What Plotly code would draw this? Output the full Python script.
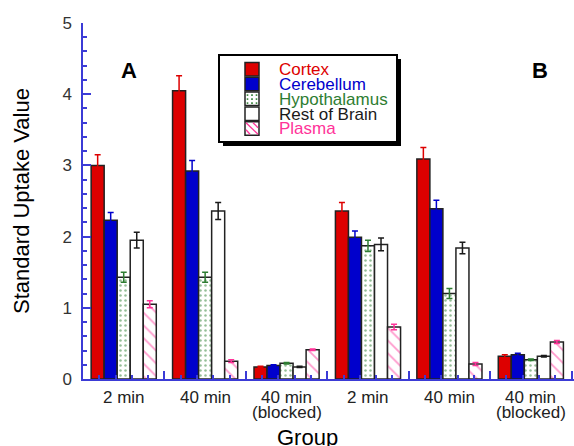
import plotly.graph_objects as go

groups = [1, 2, 3, 4, 5, 6]
group_labels = ["2 min", "40 min", "40 min", "2 min", "40 min", "40 min"]
group_sublabels = ["", "", "(blocked)", "", "", "(blocked)"]

series_names = ["Cortex", "Cerebellum", "Hypothalamus", "Rest of Brain", "Plasma"]
cortex = [3.00, 4.05, 0.17, 2.36, 3.09, 0.32]
cortex_err = [0.15, 0.21, 0.01, 0.12, 0.16, 0.02]
cerebellum = [2.23, 2.92, 0.19, 1.99, 2.39, 0.34]
cerebellum_err = [0.11, 0.15, 0.01, 0.09, 0.12, 0.02]
hypothalamus = [1.43, 1.43, 0.22, 1.87, 1.20, 0.27]
hypothalamus_err = [0.07, 0.07, 0.01, 0.08, 0.07, 0.01]
rest_of_brain = [1.95, 2.36, 0.17, 1.89, 1.84, 0.32]
rest_of_brain_err = [0.11, 0.12, 0.01, 0.09, 0.08, 0.01]
plasma = [1.05, 0.25, 0.41, 0.73, 0.21, 0.52]
plasma_err = [0.05, 0.02, 0.01, 0.04, 0.02, 0.02]

RED = "#dd0000"
BLUE = "#0000cc"
GREEN = "#2e7d32"
BLACK = "#1a1a1a"
PINK = "#ff3399"
AXIS = "#3b3bd6"
OUTLINE = "#222222"
FONT = "Liberation Sans"

colors = [RED, BLUE, GREEN, BLACK, PINK]
values = [cortex, cerebellum, hypothalamus, rest_of_brain, plasma]
errors = [cortex_err, cerebellum_err, hypothalamus_err, rest_of_brain_err, plasma_err]
markers = [
    dict(color=RED),
    dict(color=BLUE),
    dict(color="white", pattern=dict(shape=".", fgcolor=GREEN, bgcolor="white", size=5, solidity=0.2)),
    dict(color="white"),
    dict(color="white", pattern=dict(shape="\\", fgcolor=PINK, bgcolor="white", size=9, solidity=0.2)),
]

# plot area geometry in pixels
L, T, W, H = 83, 23, 491, 356
B = T + H


def px(x):
    return (x - L) / W


def py(y):
    return (B - y) / H


fig = go.Figure()
for name, vals, errs, col, marker in zip(series_names, values, errors, colors, markers):
    marker = dict(marker)
    marker["line"] = dict(color=OUTLINE, width=1.5)
    fig.add_trace(go.Bar(
        x=groups, y=vals, name=name, marker=marker,
        error_y=dict(type="data", array=errs, color=col, thickness=1.5, width=3),
    ))

fig.update_layout(
    width=574, height=446,
    margin=dict(l=L, r=574 - L - W, t=T, b=446 - B),
    paper_bgcolor="white", plot_bgcolor="white",
    barmode="group", bargap=0.2, bargroupgap=0,
    font=dict(family=FONT, size=17, color="#222222"),
    showlegend=False,
    xaxis=dict(range=[0.5, 6.53], showgrid=False, zeroline=False,
               showline=True, linecolor=AXIS, linewidth=1.5,
               tickmode="array", tickvals=[0.5, 1.5, 2.5, 3.5, 4.5, 5.5, 6.5],
               ticktext=[""] * 7, ticks="inside", ticklen=8, tickcolor=AXIS, tickwidth=1.5,
               minor=dict(ticks="inside", ticklen=4, tickcolor=AXIS, tickwidth=1.5,
                          tickmode="linear", tick0=0.5, dtick=0.2)),
    yaxis=dict(range=[0, 5], showgrid=False, zeroline=False,
               showline=True, linecolor=AXIS, linewidth=1.5,
               tickmode="linear", tick0=0, dtick=1,
               ticks="inside", ticklen=8, tickcolor=AXIS, tickwidth=1.5,
               tickfont=dict(family=FONT, size=17, color="#333333"),
               ticklabelstandoff=6,
               minor=dict(ticks="inside", ticklen=4, tickcolor=AXIS, tickwidth=1.5,
                          tickmode="linear", tick0=0, dtick=0.2),
               title=dict(text="Standard Uptake Value", font=dict(family=FONT, size=22, color="black"),
                          standoff=27)),
)

for g, lab, sub in zip(groups, group_labels, group_sublabels):
    fig.add_annotation(x=g, y=py(397), xref="x", yref="paper", text=lab, showarrow=False,
                       xanchor="center", yanchor="middle",
                       font=dict(family=FONT, size=17, color="#222222"))
    if sub:
        fig.add_annotation(x=g, y=py(413), xref="x", yref="paper", text=sub, showarrow=False,
                           xanchor="center", yanchor="middle",
                           font=dict(family=FONT, size=17, color="#222222"))

fig.add_annotation(x=px(307), y=py(437), xref="paper", yref="paper", text="Group", showarrow=False,
                   xanchor="center", yanchor="middle", font=dict(family=FONT, size=22, color="black"))

for lab, cx in (("A", 129), ("B", 540)):
    fig.add_annotation(x=px(cx), y=py(70), xref="paper", yref="paper", text=f"<b>{lab}</b>",
                       showarrow=False, xanchor="center", yanchor="middle",
                       font=dict(family=FONT, size=22, color="black"))

# ---- hand-drawn legend box (with drop shadow) ----
shapes = []
shapes.append(dict(type="rect", xref="paper", yref="paper",
                   x0=px(223), x1=px(401), y0=py(146), y1=py(59),
                   fillcolor="black", line=dict(width=0), layer="above"))
shapes.append(dict(type="rect", xref="paper", yref="paper",
                   x0=px(219), x1=px(397), y0=py(142), y1=py(55),
                   fillcolor="white", line=dict(color="black", width=2), layer="above"))

sw_x0, sw_x1 = 245, 259
sw_top, sw_step, sw_h = 62.5, 14.8, 13.5
fills = [RED, BLUE, "white", "white", "white"]
for i, (name, col, fill) in enumerate(zip(series_names, colors, fills)):
    y0 = sw_top + i * sw_step
    y1 = y0 + sw_h
    shapes.append(dict(type="rect", xref="paper", yref="paper",
                       x0=px(sw_x0), x1=px(sw_x1), y0=py(y1), y1=py(y0),
                       fillcolor=fill, line=dict(color=OUTLINE, width=1.5), layer="above"))
    if name == "Hypothalamus":
        for dx in (2.5, 7, 11.5):
            for dy in (3, 7, 11):
                shapes.append(dict(type="rect", xref="paper", yref="paper",
                                   x0=px(sw_x0 + dx - 0.8), x1=px(sw_x0 + dx + 0.8),
                                   y0=py(y0 + dy + 0.8), y1=py(y0 + dy - 0.8),
                                   fillcolor=GREEN, line=dict(width=0), layer="above"))
    if name == "Plasma":
        shapes.append(dict(type="line", xref="paper", yref="paper",
                           x0=px(sw_x0 + 1), y0=py(y0 + 1), x1=px(sw_x1 - 1), y1=py(y1 - 1),
                           line=dict(color=PINK, width=1.3), layer="above"))
        shapes.append(dict(type="line", xref="paper", yref="paper",
                           x0=px(sw_x0 + 8), y0=py(y0 + 1), x1=px(sw_x1 - 1), y1=py(y0 + 6),
                           line=dict(color=PINK, width=1.3), layer="above"))
        shapes.append(dict(type="line", xref="paper", yref="paper",
                           x0=px(sw_x0 + 1), y0=py(y0 + 8), x1=px(sw_x0 + 5), y1=py(y1 - 1),
                           line=dict(color=PINK, width=1.3), layer="above"))
    fig.add_annotation(x=px(277), y=py(y0 + sw_h / 2 + 0.5), xref="paper", yref="paper",
                       text=name, showarrow=False, xanchor="left", yanchor="middle",
                       font=dict(family=FONT, size=17, color=col))

fig.update_layout(shapes=shapes)

fig.write_html("out.html", config={"displayModeBar": False},
               post_script="document.body.style.margin='0px';")
